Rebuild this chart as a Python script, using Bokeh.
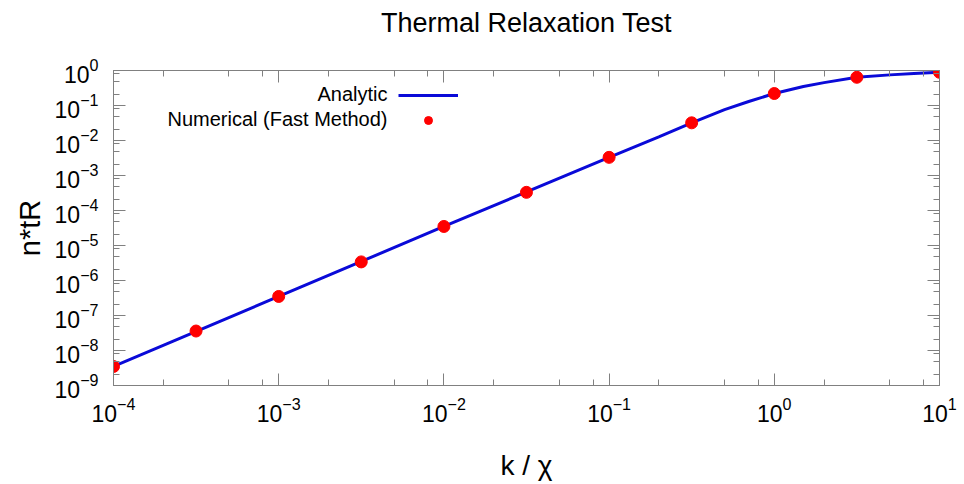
from bokeh.plotting import figure
from bokeh.models import (FixedTicker, LogAxis, Range1d, Legend, LegendItem,
                          CustomJSTickFormatter, LogTickFormatter, Label, Title)
from bokeh.embed import file_html
from bokeh.resources import INLINE

# Analytic solution, sampled along k / chi
k_analytic = [1e-4, 1e-3, 1e-2, 1e-1, 0.2, 0.316, 0.5, 0.7, 1.0, 1.5, 2.0,
              3.16, 5.0, 7.0, 10.0]
n_analytic = [3.5e-9, 3.5e-7, 3.5e-5, 3.3e-3, 1.27e-2, 3.2e-2, 7.6e-2, 0.13,
              0.22, 0.35, 0.45, 0.64, 0.75, 0.82, 0.89]

# Numerical results (fast method)
k_numerical = [1e-4, 3.16e-4, 1e-3, 3.16e-3, 1e-2, 3.16e-2, 1e-1, 3.16e-1,
               1.0, 3.16, 10.0]
n_numerical = [3.5e-9, 3.6e-8, 3.5e-7, 3.4e-6, 3.5e-5, 3.3e-4, 3.3e-3,
               3.2e-2, 0.22, 0.64, 0.89]

# Tick positions
x_major = [1e-4, 1e-3, 1e-2, 1e-1, 1e0, 1e1]
y_major = [1e-9, 1e-8, 1e-7, 1e-6, 1e-5, 1e-4, 1e-3, 1e-2, 1e-1, 1e0]
minor_mantissas = [2, 5, 8]

title_text = "Thermal Relaxation Test"
legend_labels = ["Analytic", "Numerical (Fast Method)"]

FONT = "Liberation Sans"
FRAME_COLOR = "#808080"

x_minor = [m * d for d in x_major[:-1] for m in minor_mantissas]
y_minor = [m * d for d in y_major[:-1] for m in minor_mantissas]

p = figure(frame_width=826, frame_height=315,
           x_axis_type="log", y_axis_type="log",
           x_range=Range1d(1e-4, 10), y_range=Range1d(1e-9, 1),
           min_border_left=113, min_border_right=25,
           min_border_top=70, min_border_bottom=99,
           output_backend="svg", toolbar_location=None)

p.grid.visible = False
p.outline_line_color = FRAME_COLOR
p.background_fill_color = "white"
p.border_fill_color = "white"

p.title.text = title_text
p.title.align = "center"
p.title.vertical_align = "top"
p.title.text_font = FONT
p.title.text_font_size = "27px"
p.title.text_font_style = "normal"
p.title.text_color = "black"
p.title.standoff = 8


def style_axis(ax, ticker, labels=True):
    ax.ticker = ticker
    ax.axis_line_color = FRAME_COLOR
    ax.major_tick_line_color = FRAME_COLOR
    ax.minor_tick_line_color = FRAME_COLOR
    ax.major_tick_in = 12
    ax.major_tick_out = 0
    ax.minor_tick_in = 6
    ax.minor_tick_out = 0
    if labels:
        ax.formatter = LogTickFormatter()
        ax.major_label_text_font = FONT
        ax.major_label_text_font_size = "23px"
        ax.major_label_text_color = "black"
    else:
        ax.formatter = CustomJSTickFormatter(code="return ''")


style_axis(p.xaxis[0], FixedTicker(ticks=x_major, minor_ticks=x_minor))
style_axis(p.yaxis[0], FixedTicker(ticks=y_major, minor_ticks=y_minor))
p.xaxis.major_label_standoff = 11
p.yaxis.major_label_standoff = 15

p.xaxis.axis_label = "k / χ"
p.yaxis.axis_label = "n*tR"
for ax in (p.xaxis[0], p.yaxis[0]):
    ax.axis_label_text_font = FONT
    ax.axis_label_text_font_style = "normal"
    ax.axis_label_text_color = "black"
p.xaxis.axis_label_text_font_size = "28px"
p.yaxis.axis_label_text_font_size = "29px"
p.xaxis.axis_label_standoff = 25
p.yaxis.axis_label_standoff = 6

top_axis = LogAxis()
style_axis(top_axis, FixedTicker(ticks=x_major, minor_ticks=x_minor), labels=False)
p.add_layout(top_axis, "above")
right_axis = LogAxis()
style_axis(right_axis, FixedTicker(ticks=y_major, minor_ticks=y_minor), labels=False)
p.add_layout(right_axis, "right")

# Blank band between the top axis and the title
p.add_layout(Title(text=" ", text_font_size="2px", standoff=23), "above")

analytic = p.line(k_analytic, n_analytic, line_color="#0a0ad8", line_width=3)
numerical = p.scatter(k_numerical, n_numerical, marker="circle", size=12,
                      fill_color="#ff0000", line_color="#ff0000")

# Key: samples drawn by the legend, names set right-aligned to their left
legend = Legend(items=[LegendItem(label=" ", renderers=[analytic]),
                       LegendItem(label=" ", renderers=[numerical])],
                location=(285, 255), orientation="vertical",
                glyph_width=60, glyph_height=20, label_height=20,
                spacing=5, padding=0, margin=0, label_standoff=0,
                border_line_color=None, background_fill_alpha=0)
p.add_layout(legend, "center")

for i, name in enumerate(legend_labels):
    p.add_layout(Label(x=1e-4, y=1.0, x_offset=274, y_offset=-23 - 25 * i,
                       text=name, text_align="right", text_baseline="middle",
                       text_font=FONT, text_font_size="20px",
                       text_color="black"))

open("out.html", "w").write(file_html(p, INLINE))
